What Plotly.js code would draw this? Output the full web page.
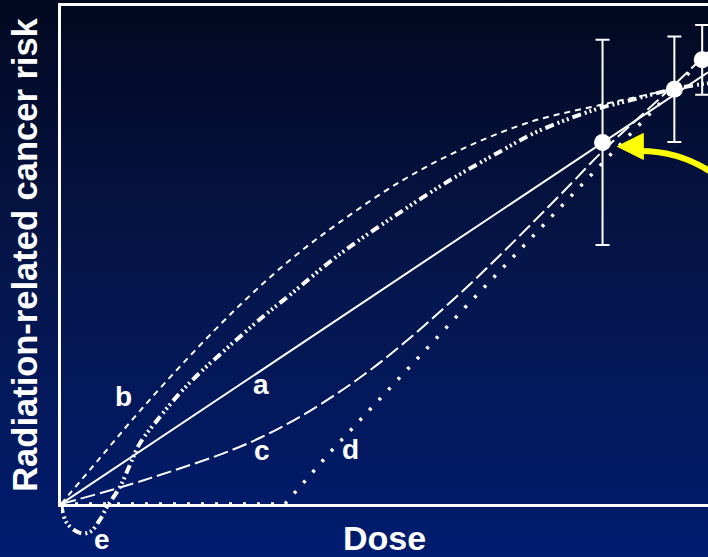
<!DOCTYPE html>
<html>
<head>
<meta charset="utf-8">
<script src="https://cdn.plot.ly/plotly-3.0.1.min.js"></script>
<style>
  html, body { margin: 0; padding: 0; overflow: hidden; background: #02081f; }
  #chart { width: 708px; height: 557px;
    background: linear-gradient(to bottom, #02081f 0%, #05164c 50%, #011c70 100%); }
</style>
</head>
<body>
<div id="chart"></div>
<script>
// ---- data (dose in arbitrary units 0-10, risk in arbitrary units) ----
// a: linear, no threshold
const doseA = [0, 10];
const riskA = [0, 8.67];
// b: concave (supralinear)
const doseB = [0, 0.60, 1.22, 1.99, 2.77, 3.54, 4.31, 5.24, 6.17, 7.25, 8.33, 9.46];
const riskB = [0, 0.92, 1.87, 2.97, 4.00, 4.90, 5.66, 6.47, 7.11, 7.67, 8.01, 8.33];
// c: convex (linear-quadratic)
const doseC = [0, 1.38, 3.08, 4.57, 6.06, 7.71, 8.36, 9.26, 9.91, 10];
const riskC = [0, 0.52, 1.33, 2.49, 4.10, 6.20, 7.07, 8.15, 8.96, 9.08];
// d: threshold
const doseD = [0, 3.46, 4.16, 5.35, 6.24, 8.49, 10];
const riskD = [0, 0, 1.04, 2.69, 3.94, 7.01, 9.05];
// e: hormesis (dips below zero)
const doseE = [0, 0.09, 0.29, 0.45, 0.60, 0.71, 0.91, 1.07, 1.22, 1.53, 1.84, 2.15, 2.61, 3.12, 3.54, 4.27, 5.13, 6.01, 6.79, 7.30, 7.82, 8.33, 8.84, 9.46, 10];
const riskE = [0, -0.38, -0.58, -0.56, -0.32, -0.06, 0.34, 0.80, 1.22, 1.75, 2.23, 2.64, 3.18, 3.76, 4.20, 4.98, 5.76, 6.50, 7.08, 7.44, 7.72, 7.95, 8.12, 8.33, 8.45];
// observed data points with error bars
const obsDose = [8.37, 9.48, 9.91];
const obsRisk = [7.26, 8.33, 8.92];
const obsErr  = [2.06, 1.06, 0.70];
// curve labels
const labelText = ['a', 'b', 'c', 'd', 'e'];
const labelDose = [3.09, 0.97, 3.11, 4.48, 0.63];
const labelRisk = [2.40, 2.15, 1.08, 1.10, -0.72];

const FONT = '"Liberation Sans", Arial, sans-serif';
const W = 'white';

const traces = [
  {x: doseA, y: riskA, mode: 'lines', line: {color: W, width: 2}, hoverinfo: 'skip'},
  {x: doseB, y: riskB, mode: 'lines', line: {color: W, width: 2, dash: '6px,5px', shape: 'spline'}, hoverinfo: 'skip'},
  {x: doseC, y: riskC, mode: 'lines', line: {color: W, width: 2, dash: '15px,5px', shape: 'spline'}, hoverinfo: 'skip'},
  {x: doseD, y: riskD, mode: 'lines', xaxis: 'x2', yaxis: 'y2', line: {color: W, width: 3.5, dash: '3px,11px'}, hoverinfo: 'skip'},
  {x: doseE, y: riskE, mode: 'lines', xaxis: 'x2', yaxis: 'y2', line: {color: W, width: 4, dash: '9px,4px,2px,3px,2px,3px,2px,4px', shape: 'spline'}, hoverinfo: 'skip'},
  {x: obsDose, y: obsRisk, mode: 'markers', cliponaxis: false,
   marker: {color: W, size: 17},
   error_y: {type: 'data', array: obsErr, color: W, thickness: 2, width: 7}, hoverinfo: 'skip'}
];

const annotations = labelText.map((t, i) => ({
  text: t, x: labelDose[i], y: labelRisk[i],
  xref: t === 'e' ? 'x2' : 'x', yref: t === 'e' ? 'y2' : 'y',
  showarrow: false, font: {family: FONT, size: 28, color: W, weight: 'bold'}
}));

const mainBottom = (557 - 504) / 551;

const layout = {
  width: 708, height: 557,
  margin: {l: 61, r: 0, t: 6, b: 0},
  paper_bgcolor: 'rgba(0,0,0,0)', plot_bgcolor: 'rgba(0,0,0,0)',
  showlegend: false,
  xaxis: {range: [0, 10], domain: [0, 1], showline: true, mirror: true, linecolor: W, linewidth: 3,
          showgrid: false, zeroline: false, ticks: '', showticklabels: false,
          title: {text: 'Dose', font: {family: FONT, size: 34, color: W, weight: 'bold'}, standoff: 21}},
  yaxis: {range: [0, 10], domain: [mainBottom, 1], showline: true, mirror: false, linecolor: W, linewidth: 3,
          showgrid: false, zeroline: false, ticks: '', showticklabels: false,
          title: {text: 'Radiation-related cancer risk', font: {family: FONT, size: 34.5, color: W, weight: 'bold'}, standoff: 10}},
  xaxis2: {range: [0, 10], domain: [0, 1], anchor: 'y2', visible: false},
  yaxis2: {range: [-1.0643, 10], domain: [0, 1], anchor: 'x2', visible: false},
  annotations: annotations,
  shapes: [
    {type: 'path', xref: 'x', yref: 'y', path: 'M 8.95 7.09 Q 9.6 7.09 10.12 6.6',
     line: {color: '#ffff00', width: 6}},
    {type: 'path', xref: 'x', yref: 'y', path: 'M 8.60 7.18 L 9.00 7.44 L 9.00 6.92 Z',
     fillcolor: '#ffff00', line: {color: '#ffff00', width: 1}}
  ]
};

Plotly.newPlot('chart', traces, layout, {staticPlot: true, displayModeBar: false});
</script>
</body>
</html>
